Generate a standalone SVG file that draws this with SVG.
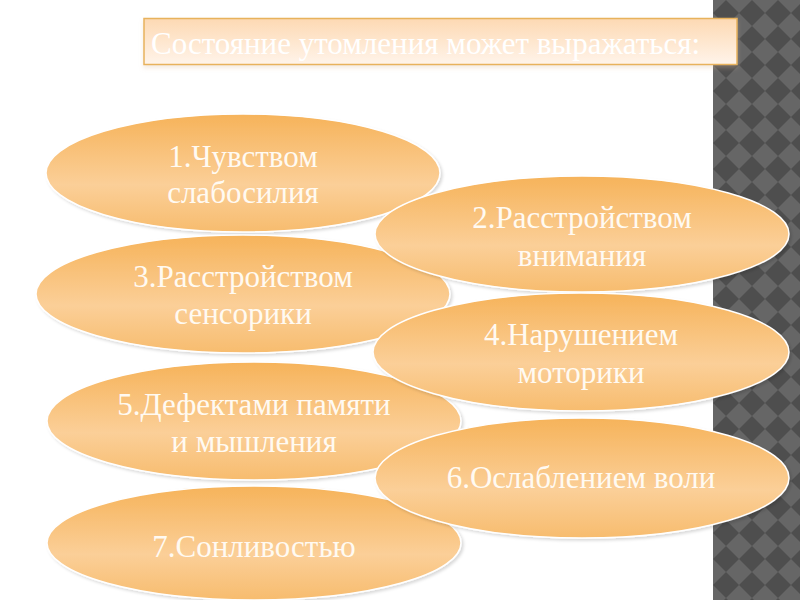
<svg xmlns="http://www.w3.org/2000/svg" width="800" height="600" viewBox="0 0 800 600">
  <defs>
    <pattern id="diamonds" x="713" y="0" width="26" height="26" patternUnits="userSpaceOnUse">
      <rect width="26" height="26" fill="#666666"/>
      <polygon points="13,0 26,13 13,26 0,13" fill="#4E4E4E"/>
    </pattern>
    <linearGradient id="ellFill" x1="0" y1="0" x2="0" y2="1">
      <stop offset="0" stop-color="#F6B35A"/>
      <stop offset="0.6" stop-color="#FBCF98"/>
      <stop offset="1" stop-color="#F7BC6E"/>
    </linearGradient>
    <linearGradient id="titleFill" x1="0" y1="0" x2="0" y2="1">
      <stop offset="0" stop-color="#FDD9B3"/>
      <stop offset="1" stop-color="#FFF4EA"/>
    </linearGradient>
    <filter id="shadow" x="-10%" y="-20%" width="120%" height="150%">
      <feDropShadow dx="2" dy="2" stdDeviation="1.5" flood-color="#000000" flood-opacity="0.15"/>
    </filter>
    <filter id="tshadow" x="-5%" y="-20%" width="110%" height="160%">
      <feDropShadow dx="0" dy="3" stdDeviation="2" flood-color="#E0C0A0" flood-opacity="0.3"/>
    </filter>
  </defs>
  <style>
    .ell { fill: url(#ellFill); stroke: #FFFFFF; stroke-width: 1.5; filter: url(#shadow); }
    .lbl { font-family: "Liberation Serif", "Times New Roman", serif; font-size: 31px; fill: #FFFAF2; text-anchor: middle; }
    .title { font-family: "Liberation Serif", "Times New Roman", serif; font-size: 31px; fill: #FFFFFF; }
  </style>
  <rect width="800" height="600" fill="#FFFFFF"/>
  <rect x="713" y="0" width="87" height="600" fill="url(#diamonds)"/>

  <g id="title">
    <rect x="144" y="18.5" width="593" height="46" fill="url(#titleFill)" stroke="#E8B25C" stroke-width="1.5" filter="url(#tshadow)"/>
    <text class="title" x="151" y="54">Состояние утомления может выражаться:</text>
  </g>

  <g id="connectors"/>

  <g id="n1">
    <ellipse class="ell" cx="243" cy="173" rx="197" ry="59"/>
    <text class="lbl" x="243" y="167">1.Чувством</text>
    <text class="lbl" x="243" y="203">слабосилия</text>
  </g>
  <g id="n3">
    <ellipse class="ell" cx="243" cy="294" rx="207" ry="59"/>
    <text class="lbl" x="243" y="287">3.Расстройством</text>
    <text class="lbl" x="243" y="324">сенсорики</text>
  </g>
  <g id="n5">
    <ellipse class="ell" cx="254" cy="421" rx="207" ry="59"/>
    <text class="lbl" x="254" y="415">5.Дефектами памяти</text>
    <text class="lbl" x="254" y="452">и мышления</text>
  </g>
  <g id="n7">
    <ellipse class="ell" cx="254" cy="543" rx="207" ry="57"/>
    <text class="lbl" x="254" y="557">7.Сонливостью</text>
  </g>
  <g id="n2">
    <ellipse class="ell" cx="582" cy="234" rx="207" ry="58"/>
    <text class="lbl" x="582" y="228">2.Расстройством</text>
    <text class="lbl" x="582" y="266">внимания</text>
  </g>
  <g id="n4">
    <ellipse class="ell" cx="581" cy="352" rx="208" ry="59"/>
    <text class="lbl" x="581" y="345">4.Нарушением</text>
    <text class="lbl" x="581" y="383">моторики</text>
  </g>
  <g id="n6">
    <ellipse class="ell" cx="582" cy="478" rx="207" ry="60"/>
    <text class="lbl" x="581" y="488">6.Ослаблением воли</text>
  </g>
</svg>
